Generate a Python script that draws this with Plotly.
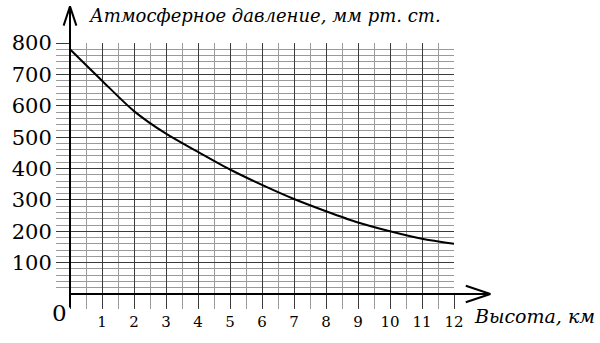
import plotly.graph_objects as go

# ---- data ----
height_km = [0, 1, 2, 3, 4, 5, 6, 7, 8, 9, 10, 11, 12]
pressure_mm = [780, 680, 583, 511, 453, 397, 348, 303, 264, 228, 200, 176, 160]

x_tick_vals = list(range(0, 13))
x_tick_text = [""] + [str(v) for v in range(1, 13)]
y_tick_vals = [100, 200, 300, 400, 500, 600, 700, 800]
y_tick_text = [str(v) for v in y_tick_vals]

y_title = "Атмосферное давление, мм рт. ст."
x_title = "Высота, км"
origin_label = "0"

# ---- layout geometry (pixels) ----
W, H = 600, 343
L, R, T, B = 63, 146, 43, 40
PW, PH = W - L - R, H - T - B


def px(xp):
    return (xp - L) / PW


def py(yp):
    return (H - B - yp) / PH


FONT = "DejaVu Serif"
MAJOR = "#3c3c3c"
MINOR = "#9a9a9a"

fig = go.Figure()
fig.add_trace(go.Scatter(
    x=height_km, y=pressure_mm, mode="lines",
    line=dict(color="black", width=2, shape="spline", smoothing=0.8),
    hoverinfo="skip", showlegend=False,
))

shapes = []
axis_line = dict(color="black", width=2)
# y axis with arrow
shapes.append(dict(type="line", xref="paper", yref="paper",
                   x0=0, x1=0, y0=py(317), y1=py(5), line=axis_line))
shapes.append(dict(type="line", xref="paper", yref="paper",
                   x0=px(63), y0=py(5), x1=px(56.5), y1=py(25), line=axis_line))
shapes.append(dict(type="line", xref="paper", yref="paper",
                   x0=px(63), y0=py(5), x1=px(69.5), y1=py(25), line=axis_line))
# x axis with arrow
shapes.append(dict(type="line", xref="paper", yref="paper",
                   x0=0, x1=px(491), y0=0, y1=0, line=axis_line))
shapes.append(dict(type="line", xref="paper", yref="paper",
                   x0=px(491), y0=py(H - B), x1=px(466), y1=py(H - B - 8.5), line=axis_line))
shapes.append(dict(type="line", xref="paper", yref="paper",
                   x0=px(491), y0=py(H - B), x1=px(466), y1=py(H - B + 8.5), line=axis_line))

annotations = [
    dict(text=y_title, xref="paper", yref="paper", x=px(79), y=py(15),
         xanchor="left", yanchor="middle", showarrow=False,
         font=dict(family=FONT, size=18, color="black", style="italic")),
    dict(text=x_title, xref="paper", yref="paper", x=px(472), y=py(326),
         xanchor="left", yanchor="middle", showarrow=False,
         font=dict(family=FONT, size=19, color="black", style="italic")),
    dict(text=origin_label, xref="paper", yref="paper", x=px(52), y=py(323),
         xanchor="center", yanchor="middle", showarrow=False,
         font=dict(family=FONT, size=23, color="black")),
]

fig.update_layout(
    width=W, height=H,
    margin=dict(l=L, r=R, t=T, b=B, pad=0),
    paper_bgcolor="white", plot_bgcolor="white",
    shapes=shapes, annotations=annotations,
    xaxis=dict(
        range=[0, 12], tickmode="array", tickvals=x_tick_vals, ticktext=x_tick_text,
        showgrid=True, gridcolor=MAJOR, gridwidth=1,
        ticks="outside", ticklen=14, tickcolor=MAJOR, tickwidth=1,
        zeroline=False, showline=False,
        tickfont=dict(family=FONT, size=15, color="black"),
        minor=dict(dtick=0.5, tick0=0, showgrid=True, gridcolor=MINOR, gridwidth=1,
                   ticks="outside", ticklen=14, tickcolor=MINOR, tickwidth=1),
        fixedrange=True,
    ),
    yaxis=dict(
        range=[0.3, 800], tickmode="array", tickvals=y_tick_vals, ticktext=y_tick_text,
        showgrid=True, gridcolor=MAJOR, gridwidth=1,
        ticks="outside", ticklen=13, tickcolor=MAJOR, tickwidth=1,
        zeroline=False, showline=False,
        tickfont=dict(family=FONT, size=21, color="black"),
        minor=dict(dtick=20, tick0=0, showgrid=True, gridcolor=MINOR, gridwidth=1,
                   ticks="outside", ticklen=13, tickcolor=MINOR, tickwidth=1),
        fixedrange=True,
    ),
)

fig.write_html("out.html", config={"displayModeBar": False})

# remove the browser's default page margin so the figure sits at (0, 0)
with open("out.html", "r", encoding="utf-8") as f:
    html = f.read()
html = html.replace("<body>", '<body style="margin:0;padding:0;overflow:hidden">', 1)
with open("out.html", "w", encoding="utf-8") as f:
    f.write(html)
